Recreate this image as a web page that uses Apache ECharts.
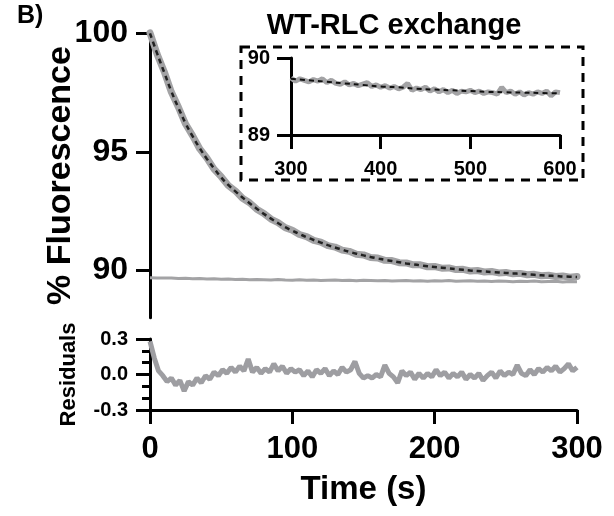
<!DOCTYPE html>
<html>
<head>
<meta charset="utf-8">
<script src="https://cdn.jsdelivr.net/npm/echarts@6/dist/echarts.min.js"></script>
<style>html,body{margin:0;padding:0;background:#fff}#c{width:614px;height:516px}</style>
</head>
<body>
<div id="c"></div>
<script>
// ---- data ----
const mainTimes = [0,5,10,15,20,25,30,35,40,45,50,55,60,65,70,75,80,85,90,95,100,105,110,115,120,125,130,135,140,145,150,155,160,165,170,175,180,185,190,195,200,205,210,215,220,225,230,235,240,245,250,255,260,265,270,275,280,285,290,295,300];
const mainData = [100.02,99.12,98.38,97.52,96.88,96.17,95.67,95.12,94.73,94.27,93.95,93.58,93.35,93.04,92.85,92.58,92.40,92.16,92.01,91.80,91.69,91.51,91.42,91.26,91.19,91.04,90.98,90.85,90.80,90.68,90.65,90.54,90.52,90.42,90.41,90.32,90.31,90.23,90.23,90.15,90.16,90.09,90.10,90.03,90.04,89.97,89.99,89.93,89.95,89.89,89.91,89.85,89.87,89.81,89.83,89.77,89.79,89.74,89.76,89.71,89.74];
const mainFit = [100.00,99.15,98.35,97.55,96.85,96.20,95.65,95.15,94.70,94.30,93.92,93.60,93.33,93.07,92.83,92.60,92.38,92.18,91.99,91.82,91.67,91.53,91.40,91.28,91.17,91.06,90.96,90.87,90.78,90.70,90.63,90.56,90.50,90.44,90.39,90.34,90.29,90.25,90.21,90.17,90.14,90.11,90.08,90.05,90.02,89.99,89.97,89.95,89.93,89.91,89.89,89.87,89.85,89.83,89.81,89.79,89.77,89.76,89.74,89.73,89.72];
const exchangeData = [89.69,89.68,89.67,89.68,89.65,89.66,89.64,89.65,89.63,89.64,89.62,89.63,89.61,89.62,89.60,89.61,89.60,89.59,89.61,89.59,89.58,89.60,89.58,89.59,89.57,89.58,89.59,89.57,89.58,89.56,89.58,89.57,89.56,89.57,89.55,89.56,89.57,89.55,89.56,89.54,89.56,89.55,89.57,89.54,89.55,89.56,89.54,89.55,89.53,89.55,89.54,89.52,89.54,89.53,89.55,89.52,89.53,89.54,89.51,89.53,89.52];

const residTimes = [0,3,6,9,12,15,18,21,24,27,30,33,36,39,42,45,48,51,54,57,60,63,66,69,72,75,78,81,84,87,90,93,96,99,102,105,108,111,114,117,120,123,126,129,132,135,138,141,144,147,150,153,156,159,162,165,168,171,174,177,180,183,186,189,192,195,198,201,204,207,210,213,216,219,222,225,228,231,234,237,240,243,246,249,252,255,258,261,264,267,270,273,276,279,282,285,288,291,294,297,300];
const residuals = [0.28,0.14,0.03,-0.01,-0.06,-0.03,-0.09,-0.05,-0.14,-0.06,
  -0.09,-0.03,-0.07,-0.01,-0.04,0.02,-0.01,0.04,0.01,0.06,
  0.02,0.07,0.03,0.13,0.02,0.06,0.01,0.05,0.02,0.09,
  0.03,0.07,0.01,0.05,0.02,0.04,-0.01,0.03,-0.02,0.04,
  0.01,0.05,-0.01,0.03,0.00,0.06,0.02,0.04,0.11,0.01,
  -0.03,-0.01,-0.03,0.00,-0.02,0.08,0.01,-0.02,-0.07,0.03,
  -0.01,0.02,-0.04,0.01,-0.03,0.01,-0.02,0.04,-0.01,0.02,
  -0.03,0.01,-0.02,0.02,-0.04,0.00,-0.03,0.01,-0.05,-0.01,
  0.02,-0.03,0.03,-0.01,0.02,0.00,0.08,0.01,-0.01,0.04,
  0.00,0.05,0.02,0.06,0.03,0.07,0.02,0.05,0.09,0.03,
  0.06];

const insetTimes = [300,305,310,315,320,325,330,335,340,345,350,355,360,365,370,375,380,385,390,395,400,405,410,415,420,425,430,435,440,445,450,455,460,465,470,475,480,485,490,495,500,505,510,515,520,525,530,535,540,545,550,555,560,565,570,575,580,585,590,595,600];
const insetData = [89.74,89.70,89.73,89.71,89.69,89.72,89.70,89.73,89.68,89.71,89.67,89.66,89.69,89.65,89.67,89.64,89.66,89.68,89.63,89.65,89.62,89.64,89.61,89.63,89.60,89.62,89.67,89.58,89.61,89.59,89.62,89.57,89.60,89.56,89.59,89.55,89.58,89.54,89.57,89.56,89.58,89.55,89.57,89.54,89.56,89.55,89.53,89.62,89.55,89.57,89.53,89.56,89.52,89.55,89.53,89.56,89.54,89.57,89.51,89.56,89.55];
const insetFitTimes = [300,320,340,360,380,400,420,440,460,480,500,520,540,560,580,600];
const insetFit = [89.73,89.71,89.69,89.67,89.65,89.63,89.62,89.60,89.59,89.58,89.57,89.56,89.555,89.55,89.545,89.54];

const mainTicks = [90, 95, 100];
const insetTitle = 'WT-RLC exchange';
const panelLabel = 'B)';

// ---- chart ----
const pair = (xs, ys) => xs.map((x, i) => [x, ys[i]]);
const FONT = 'Liberation Sans, Arial, sans-serif';
const BLACK = '#000';
const GRAY = '#a3a3a5';

function axisCommon(extra) {
  return Object.assign({
    type: 'value',
    splitLine: { show: false },
    nameMoveOverlap: false,
    axisLine: { show: true, onZero: false, lineStyle: { color: BLACK, width: 3 } },
    axisTick: { show: true, length: 14, lineStyle: { color: BLACK, width: 3 } },
  }, extra);
}

const chart = echarts.init(document.getElementById('c'), null, { renderer: 'canvas' });
chart.setOption({
  animation: false,
  backgroundColor: '#fff',
  grid: [
    { left: 150, top: 33.3, width: 427, height: 284.4 },
    { left: 150, top: 339, width: 427, height: 71 },
    { left: 291, top: 58, width: 269, height: 77 }
  ],
  xAxis: [
    axisCommon({ gridIndex: 0, min: 0, max: 300, show: false }),
    axisCommon({
      gridIndex: 1, min: 0, max: 300, interval: 100,
      axisLabel: { fontSize: 31, fontWeight: 'bold', color: BLACK, fontFamily: FONT, margin: 24 },
      name: 'Time (s)', nameLocation: 'middle', nameGap: 63,
      nameTextStyle: { fontSize: 33, fontWeight: 'bold', color: BLACK, fontFamily: FONT }
    }),
    axisCommon({
      gridIndex: 2, min: 300, max: 600, interval: 100,
      axisLabel: { fontSize: 20, fontWeight: 'bold', color: BLACK, fontFamily: FONT, margin: 24 }
    })
  ],
  yAxis: [
    axisCommon({
      gridIndex: 0, min: 88, max: 100,
      axisTick: { show: true, length: 14, customValues: mainTicks, lineStyle: { color: BLACK, width: 3 } },
      axisLabel: { customValues: mainTicks, fontSize: 32, fontWeight: 'bold', color: BLACK, fontFamily: FONT, margin: 22 },
      name: '% Fluorescence', nameLocation: 'middle', nameGap: 72,
      nameTextStyle: { fontSize: 34, fontWeight: 'bold', color: BLACK, fontFamily: FONT }
    }),
    axisCommon({
      gridIndex: 1, min: -0.3, max: 0.3, interval: 0.3,
      minorTick: { show: true, splitNumber: 3, length: 8, lineStyle: { color: BLACK, width: 3 } },
      axisLabel: { fontSize: 20, fontWeight: 'bold', color: BLACK, fontFamily: FONT, margin: 22,
        formatter: v => (Math.abs(v) < 1e-9 ? 0 : v).toFixed(1) },
      name: 'Residuals', nameLocation: 'middle', nameGap: 70,
      nameTextStyle: { fontSize: 22, fontWeight: 'bold', color: BLACK, fontFamily: FONT }
    }),
    axisCommon({
      gridIndex: 2, min: 89, max: 90, interval: 1,
      axisLabel: { fontSize: 20, fontWeight: 'bold', color: BLACK, fontFamily: FONT, margin: 21 }
    })
  ],
  series: [
    { type: 'line', xAxisIndex: 0, yAxisIndex: 0, data: pair(mainTimes, exchangeData), showSymbol: false, clip: false,
      lineStyle: { color: GRAY, width: 3 } },
    { type: 'line', xAxisIndex: 0, yAxisIndex: 0, data: pair(mainTimes, mainData), showSymbol: false, clip: false,
      lineStyle: { color: GRAY, width: 7, cap: 'round', join: 'round' } },
    { type: 'line', xAxisIndex: 0, yAxisIndex: 0, data: pair(mainTimes, mainFit), showSymbol: false, clip: false, smooth: true,
      lineStyle: { color: '#222', width: 2.5, type: [5, 4] } },
    { type: 'line', xAxisIndex: 1, yAxisIndex: 1, data: pair(residTimes, residuals), showSymbol: false, clip: false,
      lineStyle: { color: '#9e9ea2', width: 5 } },
    { type: 'line', xAxisIndex: 2, yAxisIndex: 2, data: pair(insetTimes, insetData), showSymbol: false, clip: false,
      lineStyle: { color: GRAY, width: 5 } },
    { type: 'line', xAxisIndex: 2, yAxisIndex: 2, data: pair(insetFitTimes, insetFit), showSymbol: false, clip: false, smooth: true,
      lineStyle: { color: '#111', width: 2, type: [5, 4] } }
  ],
  graphic: [
    { type: 'text', left: 17, top: 4, style: { text: panelLabel, font: 'bold 25px ' + FONT, fill: BLACK } },
    { type: 'text', x: 394, y: 26, style: { text: insetTitle, font: 'bold 29px ' + FONT, fill: BLACK, textAlign: 'center', textVerticalAlign: 'middle' } },
    { type: 'rect', shape: { x: 241, y: 47, width: 342, height: 133 }, style: { fill: 'none', stroke: BLACK, lineWidth: 3, lineDash: [9, 7] }, z: 10 }
  ]
});
</script>
</body>
</html>
